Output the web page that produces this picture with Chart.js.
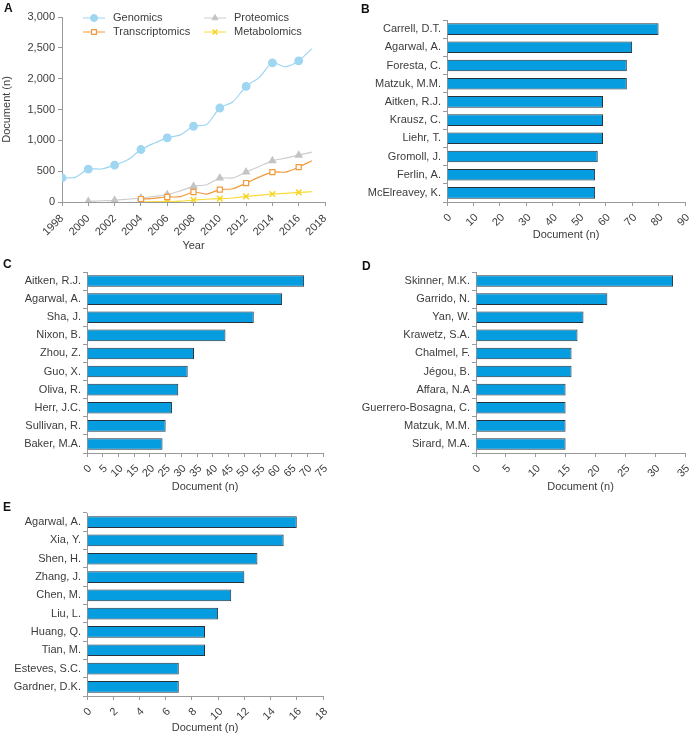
<!DOCTYPE html>
<html>
<head>
<meta charset="utf-8">
<script src="https://cdn.jsdelivr.net/npm/chart.js@4/dist/chart.umd.min.js"></script>
<style>
  body { margin: 0; background: #fff; font-family: "Liberation Sans", Arial, sans-serif; overflow: hidden; }
  #wrap { position: relative; width: 690px; height: 735px; }
  canvas { position: absolute; }
  .lbl { position: absolute; font: bold 12px "Liberation Sans", Arial, sans-serif; color: #111; }
</style>
</head>
<body>
<div id="wrap">
  <canvas id="chartA" style="left:0;top:0"></canvas>
  <canvas id="chartB" style="left:345px;top:0"></canvas>
  <canvas id="chartC" style="left:0;top:252px"></canvas>
  <canvas id="chartD" style="left:345px;top:252px"></canvas>
  <canvas id="chartE" style="left:0;top:495px"></canvas>
  <div class="lbl" style="left:4px;top:1px">A</div>
  <div class="lbl" style="left:361px;top:2px">B</div>
  <div class="lbl" style="left:3px;top:257px">C</div>
  <div class="lbl" style="left:362px;top:259px">D</div>
  <div class="lbl" style="left:3px;top:500px">E</div>
</div>
<script>
// --- panel A: documents per year ---
const years = [1998, 1999, 2000, 2001, 2002, 2003, 2004, 2005, 2006, 2007, 2008, 2009, 2010, 2011, 2012, 2013, 2014, 2015, 2016, 2017];
const genomics = [390, 400, 533, 535, 598, 684, 851, 953, 1040, 1088, 1228, 1255, 1524, 1627, 1874, 2020, 2257, 2192, 2289, 2488];
const proteomicsYears = years.slice(2);
const proteomics = [10, 20, 27, 45, 65, 90, 118, 180, 253, 280, 388, 390, 485, 576, 668, 711, 760, 808];
const transcriptomicsYears = years.slice(6);
const transcriptomics = [48, 60, 81, 86, 162, 129, 200, 215, 307, 404, 485, 485, 566, 668];
const metabolomicsYears = years.slice(6);
const metabolomics = [2, 5, 5, 15, 32, 45, 54, 65, 92, 110, 129, 140, 156, 167];

// --- panels B-E: top authors ---
const authorsB = ['Carrell, D.T.', 'Agarwal, A.', 'Foresta, C.', 'Matzuk, M.M.', 'Aitken, R.J.', 'Krausz, C.', 'Liehr, T.', 'Gromoll, J.', 'Ferlin, A.', 'McElreavey, K.'];
const docsB = [80, 70, 68, 68, 59, 59, 59, 57, 56, 56];
const authorsC = ['Aitken, R.J.', 'Agarwal, A.', 'Sha, J.', 'Nixon, B.', 'Zhou, Z.', 'Guo, X.', 'Oliva, R.', 'Herr, J.C.', 'Sullivan, R.', 'Baker, M.A.'];
const docsC = [69, 62, 53, 44, 34, 32, 29, 27, 25, 24];
const authorsD = ['Skinner, M.K.', 'Garrido, N.', 'Yan, W.', 'Krawetz, S.A.', 'Chalmel, F.', 'Jégou, B.', 'Affara, N.A', 'Guerrero-Bosagna, C.', 'Matzuk, M.M.', 'Sirard, M.A.'];
const docsD = [33, 22, 18, 17, 16, 16, 15, 15, 15, 15];
const authorsE = ['Agarwal, A.', 'Xia, Y.', 'Shen, H.', 'Zhang, J.', 'Chen, M.', 'Liu, L.', 'Huang, Q.', 'Tian, M.', 'Esteves, S.C.', 'Gardner, D.K.'];
const docsE = [16, 15, 13, 12, 11, 10, 9, 9, 7, 7];

const FONT = '"Liberation Sans", Arial, sans-serif';
const TXT = '#3c3c3c';
const AXIS = '#9a9a9a';
Chart.defaults.font.family = FONT;
Chart.defaults.font.size = 11;
Chart.defaults.color = TXT;

function pts(xs, ys) { return xs.map((x, i) => ({ x: x, y: ys[i] })); }
// markers only on even years
const evenR = r => ctx => (ctx.raw && ctx.raw.x % 2 === 0 ? r : 0);

// 2x2 legend drawn inside the plot area
const gridLegend = {
  id: 'gridLegend',
  afterDraw(chart) {
    const ctx = chart.ctx;
    const slots = [[83, 18], [83, 32], [204, 18], [204, 32]];
    chart.data.datasets.forEach((ds, i) => {
      const [x, y] = slots[i];
      ctx.save();
      ctx.strokeStyle = ds.borderColor;
      ctx.lineWidth = 1;
      ctx.beginPath(); ctx.moveTo(x, y); ctx.lineTo(x + 22, y); ctx.stroke();
      ctx.fillStyle = ds.pointBackgroundColor;
      ctx.strokeStyle = ds.pointBorderColor;
      ctx.lineWidth = ds.pointBorderWidth || 1;
      Chart.helpers.drawPoint(ctx, { pointStyle: ds.pointStyle, radius: 3.5, borderWidth: ds.pointBorderWidth || 1 }, x + 11, y);
      ctx.fillStyle = TXT;
      ctx.font = '11px ' + FONT;
      ctx.textBaseline = 'middle';
      ctx.fillText(ds.label, x + 30, y);
      ctx.restore();
    });
  }
};

function sizeCanvas(id, w, h) {
  const c = document.getElementById(id);
  c.width = w; c.height = h;
  c.style.width = w + 'px'; c.style.height = h + 'px';
  return c;
}

const lineA = sizeCanvas('chartA', 345, 256);
new Chart(lineA, {
  type: 'line',
  data: {
    datasets: [
      { label: 'Genomics', data: pts(years, genomics), borderColor: '#9fd6f2', pointBackgroundColor: '#9fd6f2', pointBorderColor: '#9fd6f2', pointStyle: 'circle', pointRadius: evenR(3.8), borderWidth: 1.2, tension: 0.25 },
      { label: 'Transcriptomics', data: pts(transcriptomicsYears, transcriptomics), borderColor: '#f39a3c', pointBackgroundColor: '#ffffff', pointBorderColor: '#f39a3c', pointStyle: 'rect', pointRadius: evenR(3.6), pointBorderWidth: 1.2, borderWidth: 1.2, tension: 0.25 },
      { label: 'Proteomics', data: pts(proteomicsYears, proteomics), borderColor: '#cdcdcd', pointBackgroundColor: '#c4c4c4', pointBorderColor: '#c4c4c4', pointStyle: 'triangle', pointRadius: evenR(3.8), borderWidth: 1.2, tension: 0.25 },
      { label: 'Metabolomics', data: pts(metabolomicsYears, metabolomics), borderColor: '#f8dc3a', pointBackgroundColor: '#f6d21c', pointBorderColor: '#f6d21c', pointStyle: 'crossRot', pointRadius: evenR(4), pointBorderWidth: 1.4, borderWidth: 1.2, tension: 0.25 }
    ]
  },
  options: {
    responsive: false, animation: false,
    layout: { padding: { top: 17, right: 20, left: 0, bottom: 0 } },
    plugins: { legend: { display: false }, tooltip: { enabled: false } },
    scales: {
      x: {
        type: 'linear', min: 1998, max: 2018,
        afterFit: s => { s.height = 54; },
        ticks: { stepSize: 2, autoSkip: false, callback: v => String(v), minRotation: 45, maxRotation: 45, padding: 6 },
        grid: { drawOnChartArea: false, tickLength: 4, color: AXIS },
        border: { color: AXIS },
        title: { display: true, text: 'Year', padding: { top: 2, bottom: 3 } }
      },
      y: {
        min: 0, max: 3000,
        afterFit: s => { s.width = 62; },
        ticks: { stepSize: 500, padding: 3 },
        grid: { drawOnChartArea: false, tickLength: 4, color: AXIS },
        border: { color: AXIS },
        title: { display: true, text: 'Document (n)', padding: { top: 0, bottom: 0 } }
      }
    }
  },
  plugins: [gridLegend]
});

function authorBars(id, w, h, labels, values, max, step, yW, padRight, padTop, xH) {
  const c = sizeCanvas(id, w, h);
  return new Chart(c, {
    type: 'bar',
    data: {
      labels: labels,
      datasets: [{
        data: values,
        backgroundColor: '#069de0',
        borderColor: '#26323d',
        borderWidth: 1,
        barPercentage: 0.64,
        categoryPercentage: 1
      }]
    },
    options: {
      indexAxis: 'y',
      responsive: false, animation: false,
      layout: { padding: { top: padTop, right: padRight, left: 0, bottom: 0 } },
      plugins: { legend: { display: false }, tooltip: { enabled: false } },
      scales: {
        x: {
          min: 0, max: max,
          afterFit: s => { s.height = xH; s.paddingRight = 0; },
          ticks: { stepSize: step, autoSkip: false, minRotation: 45, maxRotation: 45, padding: 5, labelOffset: 3 },
          grid: { drawOnChartArea: false, tickLength: 4, color: AXIS },
          border: { color: AXIS },
          title: { display: true, text: 'Document (n)', padding: { top: 2, bottom: 3 } }
        },
        y: {
          afterFit: s => { s.width = yW; },
          ticks: { padding: 2 },
          grid: { drawOnChartArea: false, tickLength: 4, color: AXIS },
          border: { color: AXIS }
        }
      }
    }
  });
}

authorBars('chartB', 345, 245, authorsB, docsB, 90, 10, 102, 5, 20, 43);
authorBars('chartC', 345, 245, authorsC, docsC, 75, 5, 87, 22, 20, 44);
authorBars('chartD', 345, 245, authorsD, docsD, 35, 5, 131, 5, 20, 44);
authorBars('chartE', 345, 243, authorsE, docsE, 18, 2, 87, 22, 18, 42);
</script>
</body>
</html>
